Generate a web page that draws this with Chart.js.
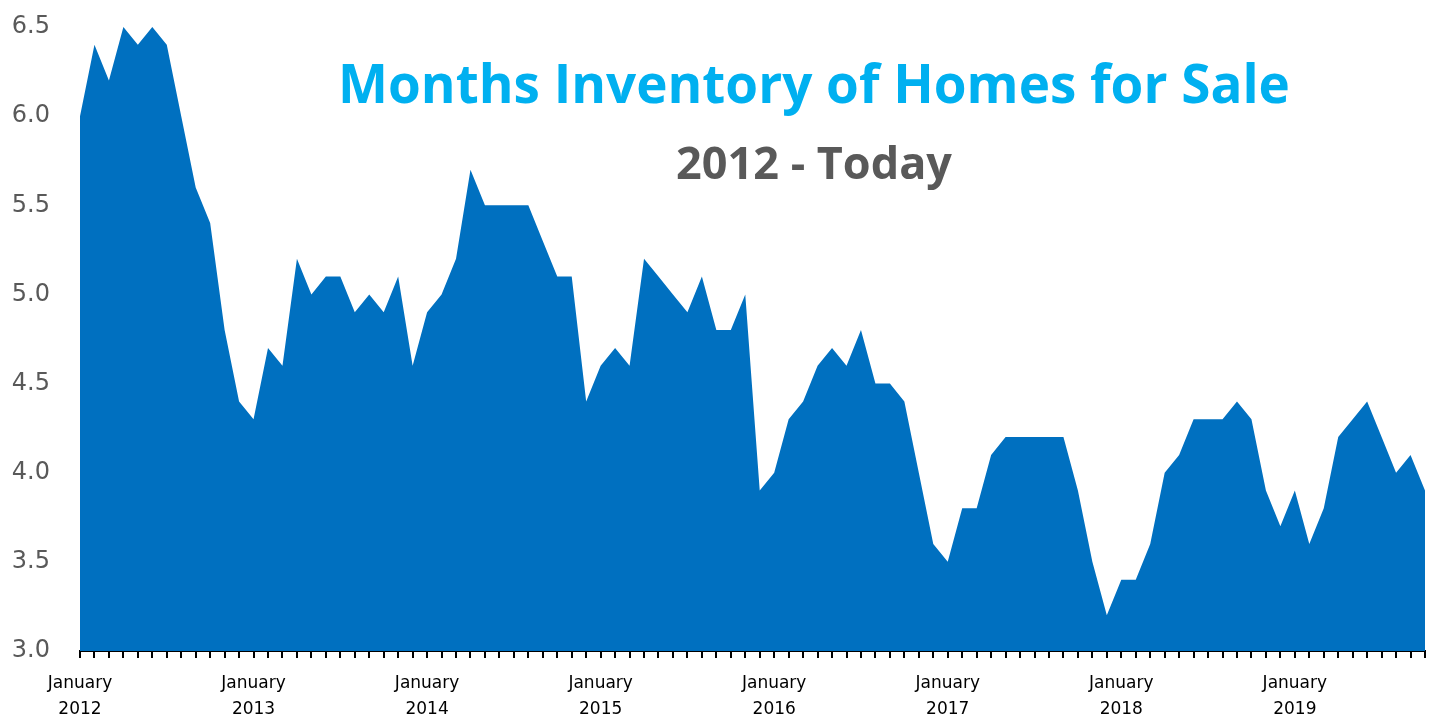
<!DOCTYPE html>
<html>
<head>
<meta charset="utf-8">
<script src="https://cdn.jsdelivr.net/npm/chart.js@4"></script>
<style>
  body { margin: 0; background: #fff; }
  #wrap { position: relative; width: 1438px; height: 719px; }
  .title {
    position: absolute; left: 0; width: 1628px; text-align: center;
    font-family: "Open Sans", sans-serif; font-weight: bold; white-space: nowrap;
  }
  #mainTitle { top: 46px; font-size: 53px; color: #00B0F0; }
  #subTitle { top: 131px; font-size: 45px; color: #595959; }
</style>
</head>
<body>
<div id="wrap">
  <canvas id="inventoryChart"></canvas>
  <div class="title" id="mainTitle">Months Inventory of Homes for Sale</div>
  <div class="title" id="subTitle">2012 - Today</div>
</div>
<script>
const years = ['2012', '2013', '2014', '2015', '2016', '2017', '2018', '2019'];
const monthNames = ['January', 'February', 'March', 'April', 'May', 'June',
  'July', 'August', 'September', 'October', 'November', 'December'];

// months of supply, Jan 2012 .. Oct 2019
const inventory2012 = [6.0, 6.4, 6.2, 6.5, 6.4, 6.5, 6.4, 6.0, 5.6, 5.4, 4.8, 4.4];
const inventory2013 = [4.3, 4.7, 4.6, 5.2, 5.0, 5.1, 5.1, 4.9, 5.0, 4.9, 5.1, 4.6];
const inventory2014 = [4.9, 5.0, 5.2, 5.7, 5.5, 5.5, 5.5, 5.5, 5.3, 5.1, 5.1, 4.4];
const inventory2015 = [4.6, 4.7, 4.6, 5.2, 5.1, 5.0, 4.9, 5.1, 4.8, 4.8, 5.0, 3.9];
const inventory2016 = [4.0, 4.3, 4.4, 4.6, 4.7, 4.6, 4.8, 4.5, 4.5, 4.4, 4.0, 3.6];
const inventory2017 = [3.5, 3.8, 3.8, 4.1, 4.2, 4.2, 4.2, 4.2, 4.2, 3.9, 3.5, 3.2];
const inventory2018 = [3.4, 3.4, 3.6, 4.0, 4.1, 4.3, 4.3, 4.3, 4.4, 4.3, 3.9, 3.7];
const inventory2019 = [3.9, 3.6, 3.8, 4.2, 4.3, 4.4, 4.2, 4.0, 4.1, 3.9];

const yTicks = [3.0, 3.5, 4.0, 4.5, 5.0, 5.5, 6.0, 6.5];

const inventory = [].concat(inventory2012, inventory2013, inventory2014, inventory2015,
  inventory2016, inventory2017, inventory2018, inventory2019);

const labels = inventory.map((v, i) => monthNames[i % 12] + ' ' + years[Math.floor(i / 12)]);

const ctx = document.getElementById('inventoryChart');

new Chart(ctx, {
  type: 'line',
  data: {
    labels: labels,
    datasets: [{
      data: inventory,
      fill: 'start',
      backgroundColor: '#0070C0',
      borderColor: '#0070C0',
      borderWidth: 0,
      pointRadius: 0,
      tension: 0
    }]
  },
  options: {
    responsive: true,
    maintainAspectRatio: false,
    animation: false,
    layout: { padding: { top: 27, right: 13, left: 0, bottom: 0 } },
    plugins: {
      legend: { display: false },
      tooltip: { enabled: false }
    },
    scales: {
      x: {
        offset: false,
        grid: {
          display: true,
          drawOnChartArea: false,
          drawTicks: true,
          tickLength: 7,
          color: '#000',
          lineWidth: 2
        },
        border: { display: true, color: '#000', width: 2 },
        ticks: {
          autoSkip: false,
          maxRotation: 0,
          minRotation: 0,
          padding: 12,
          color: '#000',
          font: { family: 'DejaVu Sans', size: 17, lineHeight: 1.55 },
          callback: function (value, index) {
            if (index % 12 === 0) return ['January', years[index / 12]];
            return '';
          }
        },
        afterFit: function (scale) {
          scale.height = 68;
          scale.paddingLeft = 0;
          scale.paddingRight = 0;
        }
      },
      y: {
        min: 3,
        max: 6.5,
        grid: { display: false, drawTicks: false },
        border: { display: false },
        afterBuildTicks: function (scale) {
          scale.ticks = yTicks.map(v => ({ value: v }));
        },
        ticks: {
          padding: 30,
          color: '#595959',
          font: { family: 'DejaVu Sans', size: 24 },
          callback: v => v.toFixed(1)
        },
        afterFit: function (scale) {
          scale.width = 80;
          scale.paddingTop = 0;
          scale.paddingBottom = 0;
        }
      }
    }
  }
});
</script>
</body>
</html>
